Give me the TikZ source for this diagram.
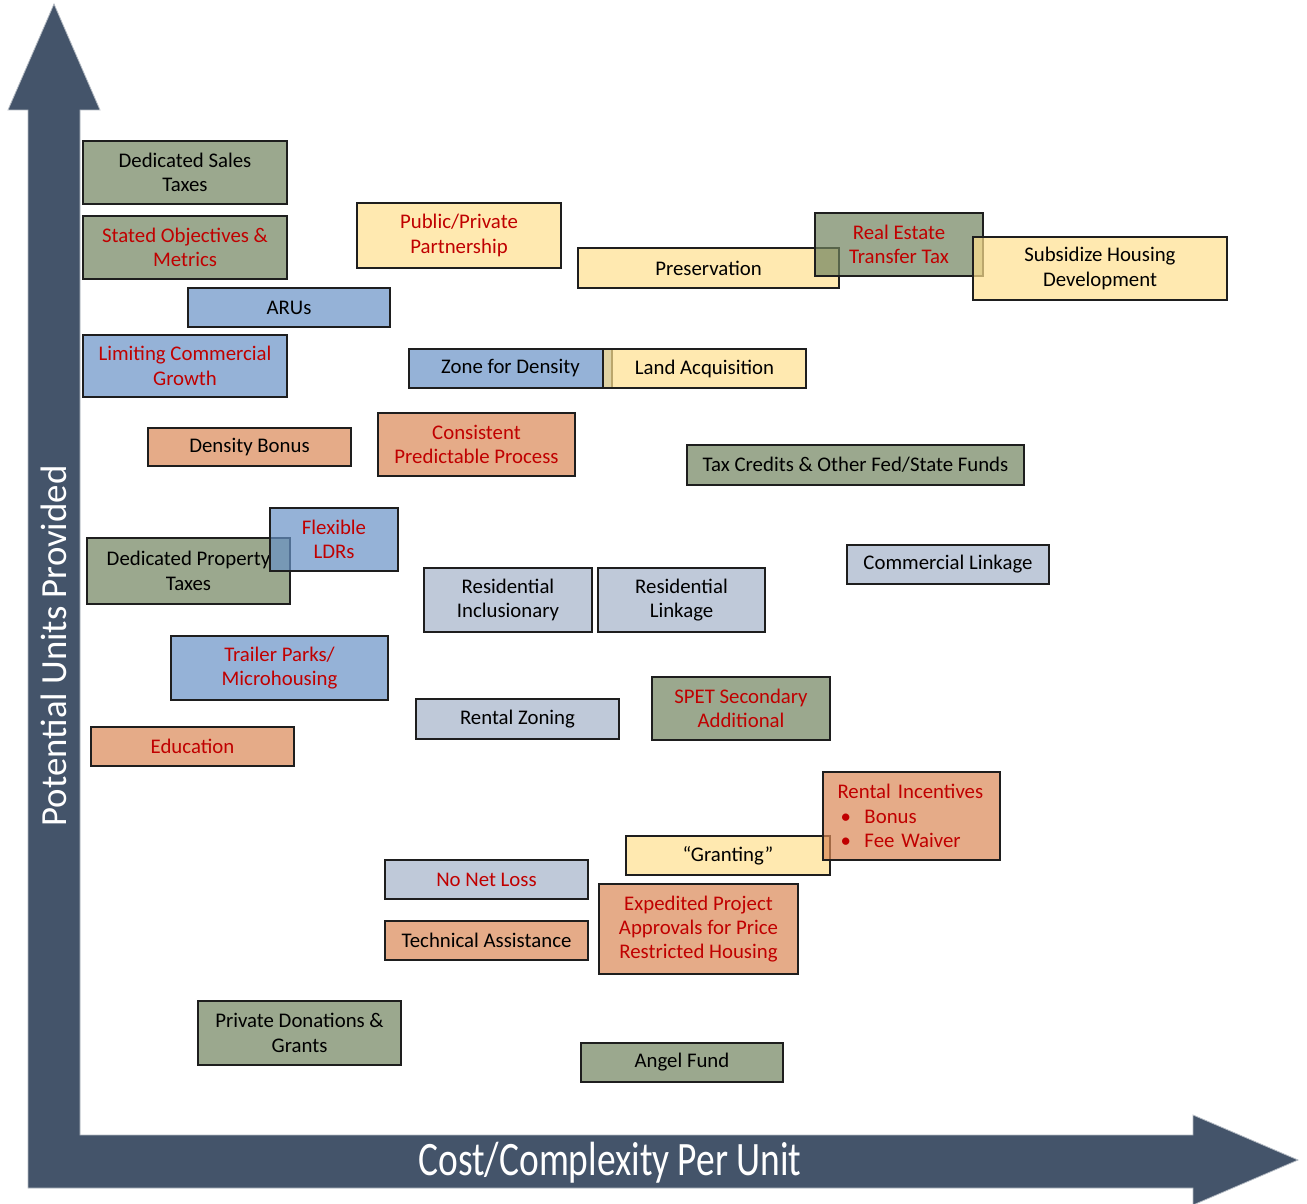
\documentclass[tikz,border=0pt]{standalone}
\usepackage{fontspec}
\setmainfont{Carlito}
\definecolor{arrowc}{RGB}{68,84,106}
\definecolor{gbase}{RGB}{112,131,94}
\definecolor{bbase}{RGB}{104,146,198}
\definecolor{ybase}{RGB}{255,224,142}
\definecolor{obase}{RGB}{218,136,85}
\definecolor{sbase}{RGB}{164,178,201}
\definecolor{redt}{RGB}{192,0,0}
\definecolor{edge}{RGB}{30,30,30}
\newcommand\boxfont{\fontsize{10.4}{12.2}\selectfont}
\tikzset{
  box/.style={draw=edge, line width=0.75pt, fill opacity=0.7, draw opacity=1, text opacity=1,
    inner sep=0pt, align=center, font=\boxfont, rectangle},
  gb/.style={fill=gbase}, bb/.style={fill=bbase}, yb/.style={fill=ybase},
  ob/.style={fill=obase}, sb/.style={fill=sbase},
  rt/.style={text=redt}, kt/.style={text=black}
}
\newcommand\B[7]{\node[box,#2,minimum width={(#5-#3)*0.5pt},minimum height={(#6-#4)*0.5pt}] (#1) at ({(#3+#5)/2},{(#4+#6)/2}) {#7};}
\begin{document}
\begin{tikzpicture}[x=0.5pt,y=-0.5pt]
\useasboundingbox (0,0) rectangle (1307,1204);
% axes arrow
\fill[arrowc, draw=arrowc!40!white, line width=0.4pt]
  (28,1188) -- (28,110) -- (8,110) -- (54,4) -- (100,110) -- (80,110) -- (80,1135)
  -- (1193,1135) -- (1193,1115) -- (1298,1160) -- (1193,1205) -- (1193,1188) -- cycle;
\node[text=white, rotate=90, font=\fontsize{18.4}{22}\selectfont, inner sep=0pt] (ylab) at (54,646) {Potential Units Provided};
\node[text=white, inner sep=0pt] (xlab) at (610,1163) {\scalebox{0.78}[1]{\fontsize{24}{28}\selectfont Cost/Complexity Per Unit}};
% boxes
\B{dst}{gb,kt}{83}{141}{287}{204}{Dedicated Sales\\Taxes}
\B{som}{gb,rt}{83}{216}{287}{279}{Stated Objectives \&\\Metrics}
\B{aru}{bb,kt}{188}{288}{390}{327}{ARUs}
\B{lcg}{bb,rt}{83}{335}{287}{397}{Limiting Commercial\\Growth}
\B{dbo}{ob,kt}{148}{428}{351}{466}{Density Bonus}
\B{dpt}{gb,kt}{87}{538}{290}{604}{Dedicated Property\\Taxes}
\B{fld}{bb,rt}{270}{508}{398}{571}{Flexible\\LDRs}
\B{tpm}{bb,rt}{171}{636}{388}{700}{Trailer Parks/\\Microhousing}
\B{edu}{ob,rt}{91}{727}{294}{766}{Education}
\B{ppp}{yb,rt}{357}{203}{561}{268}{Public/Private\\Partnership}
\B{pre}{yb,kt}{578}{248}{839}{288}{Preservation}
\B{rett}{gb,rt}{815}{213}{983}{276}{Real Estate\\Transfer Tax}
\B{shd}{yb,kt}{973}{237}{1227}{300}{Subsidize Housing\\Development}
\B{zfd}{bb,kt}{409}{349}{612}{388}{Zone for Density}
\B{lac}{yb,kt}{603}{349}{806}{388}{Land Acquisition}
\B{cpp}{ob,rt}{378}{413}{575}{476}{Consistent\\Predictable Process}
\B{tcf}{gb,kt}{687}{445}{1024}{485}{Tax Credits \& Other Fed/State Funds}
\B{cli}{sb,kt}{847}{545}{1049}{584}{Commercial Linkage}
\B{rin}{sb,kt}{424}{568}{592}{632}{Residential\\Inclusionary}
\B{rli}{sb,kt}{598}{568}{765}{632}{Residential\\Linkage}
\B{rzo}{sb,kt}{416}{699}{619}{739}{Rental Zoning}
\B{spet}{gb,rt}{652}{677}{830}{740}{SPET Secondary\\Additional}
\B{gra}{yb,kt}{626}{836}{830}{875}{“Granting”}
\B{rinc}{ob,rt,align=left,text width=74pt}{823}{772}{1000}{860}{Rental Incentives\\\hspace*{1.5pt}\makebox[12pt][l]{•}Bonus\\\hspace*{1.5pt}\makebox[12pt][l]{•}Fee Waiver}
\B{nnl}{sb,rt}{385}{860}{588}{899}{No Net Loss}
\B{tas}{ob,kt}{385}{921}{588}{960}{Technical Assistance}
\B{epa}{ob,rt}{599}{884}{798}{974}{Expedited Project\\Approvals for Price\\Restricted Housing}
\B{pdg}{gb,kt}{198}{1001}{401}{1065}{Private Donations \&\\Grants}
\B{ang}{gb,kt}{581}{1043}{783}{1082}{Angel Fund}
\end{tikzpicture}
\end{document}
